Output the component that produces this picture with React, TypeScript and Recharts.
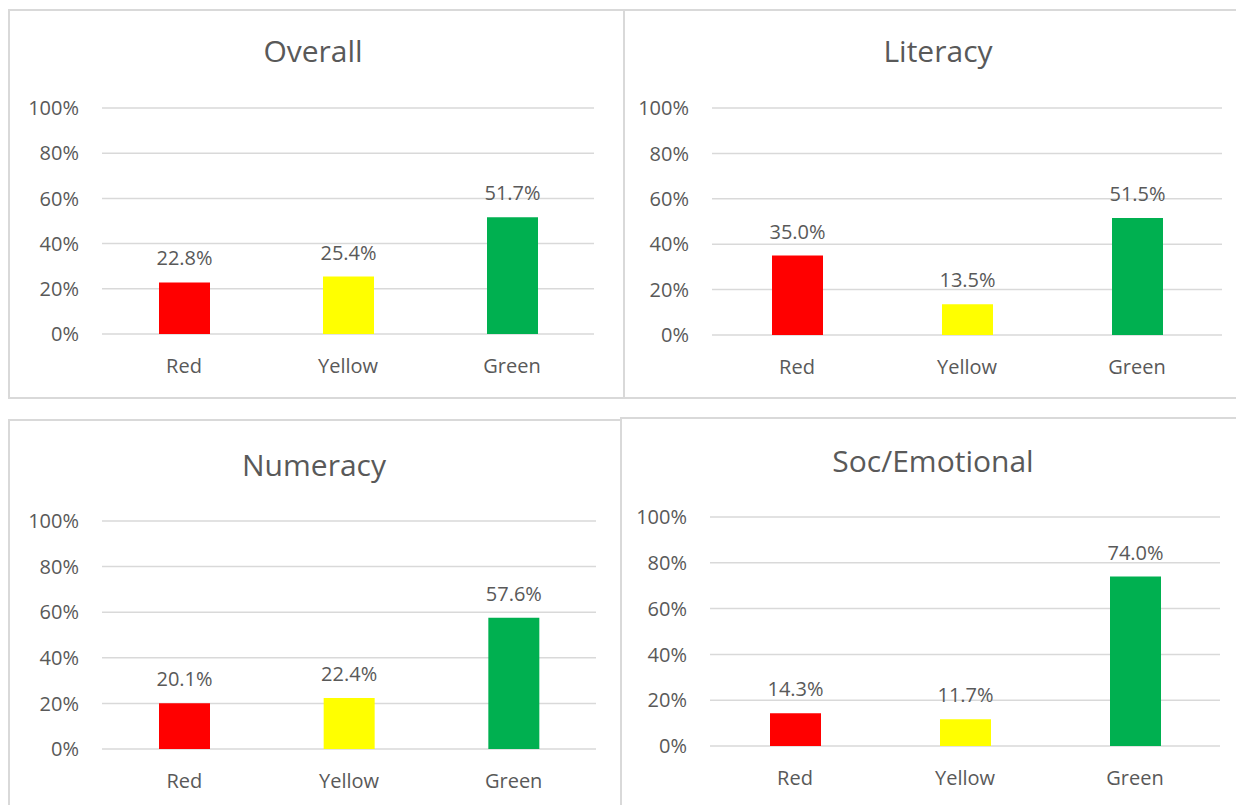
import React from 'react';
import { BarChart, Bar, XAxis, YAxis, CartesianGrid, Cell, LabelList } from 'recharts';

const categories = ['Red', 'Yellow', 'Green'];
const overallValues = [22.8, 25.4, 51.7];
const literacyValues = [35.0, 13.5, 51.5];
const numeracyValues = [20.1, 22.4, 57.6];
const socEmotionalValues = [14.3, 11.7, 74.0];
const barColors = ['#FF0000', '#FFFF00', '#00B050'];
const yTicks = [0, 20, 40, 60, 80, 100];

const FONT = '"Open Sans", "Noto Sans", sans-serif';
const TEXT = '#595959';
const GRID = '#d9d9d9';

type PanelProps = {
  title: string;
  values: number[];
  box: { x: number; y: number; w: number; h: number };
  plot: { left: number; right: number; top: number; bottom: number };
  titleX: number;
  titleY: number;
};

function Panel({ title, values, box, plot, titleX, titleY }: PanelProps) {
  const data = categories.map((c, i) => ({ name: c, value: values[i] }));
  const yAxisW = plot.left - box.x;
  const xAxisH = 50;
  const chartW = plot.right - box.x;
  const chartH = plot.bottom - box.y + xAxisH;
  return (
    <>
      <div
        style={{
          position: 'absolute',
          left: box.x,
          top: box.y,
          width: box.w,
          height: box.h,
          border: `2px solid ${GRID}`,
          boxSizing: 'border-box',
          background: '#fff',
        }}
      />
      <div
        style={{
          position: 'absolute',
          left: titleX - 200,
          top: titleY - 16,
          width: 400,
          textAlign: 'center',
          fontFamily: FONT,
          fontSize: 30,
          lineHeight: '30px',
          color: TEXT,
        }}
      >
        {title}
      </div>
      <div style={{ position: 'absolute', left: box.x, top: box.y }}>
        <BarChart
          width={chartW}
          height={chartH}
          data={data}
          margin={{ top: plot.top - box.y, right: 0, bottom: 0, left: 0 }}
          style={{ fontFamily: FONT }}
        >
          <CartesianGrid vertical={false} stroke={GRID} strokeWidth={1.5} />
          <XAxis
            dataKey="name"
            height={xAxisH}
            axisLine={false}
            tickLine={false}
            tickSize={0}
            tickMargin={25}
            tick={{ fill: TEXT, fontSize: 20, fontFamily: FONT }}
          />
          <YAxis
            width={yAxisW}
            domain={[0, 100]}
            ticks={yTicks}
            axisLine={false}
            tickLine={false}
            tickSize={0}
            tickMargin={23}
            tickFormatter={(v: number) => `${v}%`}
            tick={{ fill: TEXT, fontSize: 20, fontFamily: FONT }}
          />
          <Bar dataKey="value" barSize={51} isAnimationActive={false}>
            {data.map((d, i) => (
              <Cell key={d.name} fill={barColors[i]} />
            ))}
            <LabelList
              dataKey="value"
              position="top"
              offset={17}
              formatter={(v: number) => `${Number(v).toFixed(1)}%`}
              style={{ fill: TEXT, fontSize: 20, fontFamily: FONT }}
            />
          </Bar>
        </BarChart>
      </div>
    </>
  );
}

export default function App() {
  return (
    <div
      style={{
        position: 'absolute',
        left: 0,
        top: 0,
        width: 1236,
        height: 805,
        overflow: 'hidden',
        background: '#fff',
      }}
    >
      <Panel
        title="Overall"
        values={overallValues}
        box={{ x: 8, y: 9, w: 617, h: 390 }}
        plot={{ left: 102, right: 594, top: 108, bottom: 334 }}
        titleX={313}
        titleY={52}
      />
      <Panel
        title="Literacy"
        values={literacyValues}
        box={{ x: 623, y: 9, w: 630, h: 390 }}
        plot={{ left: 712, right: 1222, top: 108, bottom: 335 }}
        titleX={938}
        titleY={52}
      />
      <Panel
        title="Numeracy"
        values={numeracyValues}
        box={{ x: 8, y: 419, w: 614, h: 400 }}
        plot={{ left: 102, right: 596, top: 521, bottom: 749 }}
        titleX={314}
        titleY={466}
      />
      <Panel
        title="Soc/Emotional"
        values={socEmotionalValues}
        box={{ x: 620, y: 417, w: 630, h: 400 }}
        plot={{ left: 710, right: 1220, top: 517, bottom: 746 }}
        titleX={933}
        titleY={462}
      />
    </div>
  );
}
